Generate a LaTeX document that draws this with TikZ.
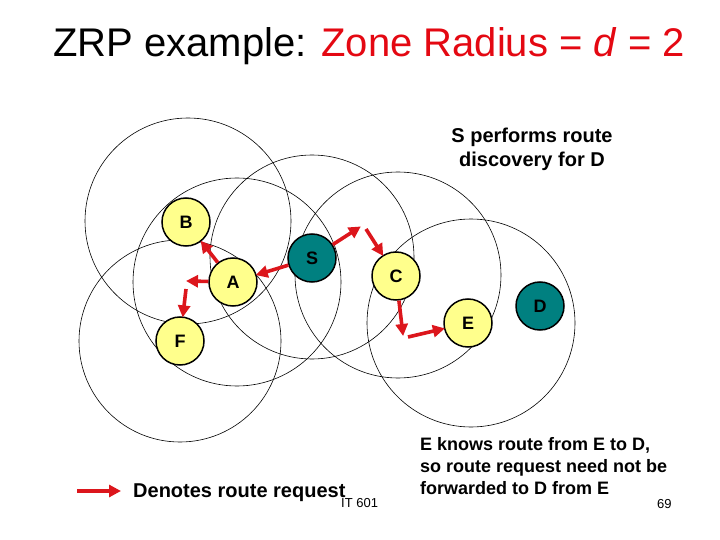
\documentclass[tikz,border=0pt]{standalone}
\usepackage{fontspec}
\setmainfont{Liberation Sans}
\usetikzlibrary{arrows.meta}
\definecolor{titlered}{RGB}{228,8,18}
\definecolor{arrowred}{RGB}{220,22,28}
\definecolor{nodeyellow}{RGB}{255,255,140}
\definecolor{nodeteal}{RGB}{0,128,128}
\tikzset{
  zone/.style={draw=black, line width=0.6pt},
  peer/.style={circle, draw=black, line width=1.5pt, fill=nodeyellow, minimum size=48pt, inner sep=0pt, font=\fontsize{18}{20}\selectfont\bfseries},
  endpeer/.style={peer, fill=nodeteal},
  rreq/.style={draw=arrowred, line width=3.6pt, -{Triangle[length=12pt,width=12pt]}, shorten >=-1pt},
  lbl/.style={inner sep=0pt}
}
\begin{document}
\begin{tikzpicture}[x=1pt,y=-1pt]
\useasboundingbox (0,0) rectangle (720,540);
% title
\node[lbl, anchor=base west] (title) at (53,57) {\fontsize{40}{46}\selectfont ZRP example: \textcolor{titlered}{Zone Radius = \textit{d} = 2}};
% zones
\draw[zone] (188,221) circle (103);
\draw[zone] (237,282) circle (104);
\draw[zone] (312,257) circle (102);
\draw[zone] (180,341) circle (101);
\draw[zone] (398,275) circle (103);
\draw[zone] (471,323) circle (104);
% nodes
\node[peer] (B) at (186,222) {B};
\node[peer] (A) at (233,282) {A};
\node[endpeer] (S) at (312,258) {S};
\node[peer] (F) at (180,341) {F};
\node[peer] (C) at (396,276) {C};
\node[peer] (E) at (468,323) {E};
\node[endpeer] (D) at (540,306) {D};
% route request arrows
\coordinate (p1) at (187,281);
\coordinate (q1) at (186,289);
\coordinate (p2) at (360,227);
\coordinate (q2) at (366,229);
\coordinate (p3) at (403,335);
\coordinate (q3) at (408,337);
\draw[rreq] (S) -- (A);
\draw[rreq] (A) -- (B);
\draw[rreq] (A) -- (p1);
\draw[rreq] (q1) -- (F);
\draw[rreq] (S) -- (p2);
\draw[rreq] (q2) -- (C);
\draw[rreq] (C) -- (p3);
\draw[rreq] (q3) -- (E);
% texts
\node[lbl, anchor=base, align=center, font=\fontsize{20}{24}\selectfont\bfseries] (stext) at (532,167) {S performs route\\discovery for D};
\node[lbl, anchor=base west, align=left, font=\fontsize{18}{22}\selectfont\bfseries] (etext) at (420,494) {E knows route from E to D,\\so route request need not be\\forwarded to D from E};
\coordinate (l1) at (77,491);
\coordinate (l2) at (120,491);
\draw[rreq] (l1) -- (l2);
\node[lbl, anchor=base west, font=\fontsize{20}{24}\selectfont\bfseries] (legend) at (133,497) {Denotes route request};
\node[lbl, anchor=base west, font=\fontsize{13}{15}\selectfont] (foot) at (341,507) {IT 601};
\node[lbl, anchor=base west, font=\fontsize{13}{15}\selectfont] (page) at (657,508) {69};
\end{tikzpicture}
\end{document}
